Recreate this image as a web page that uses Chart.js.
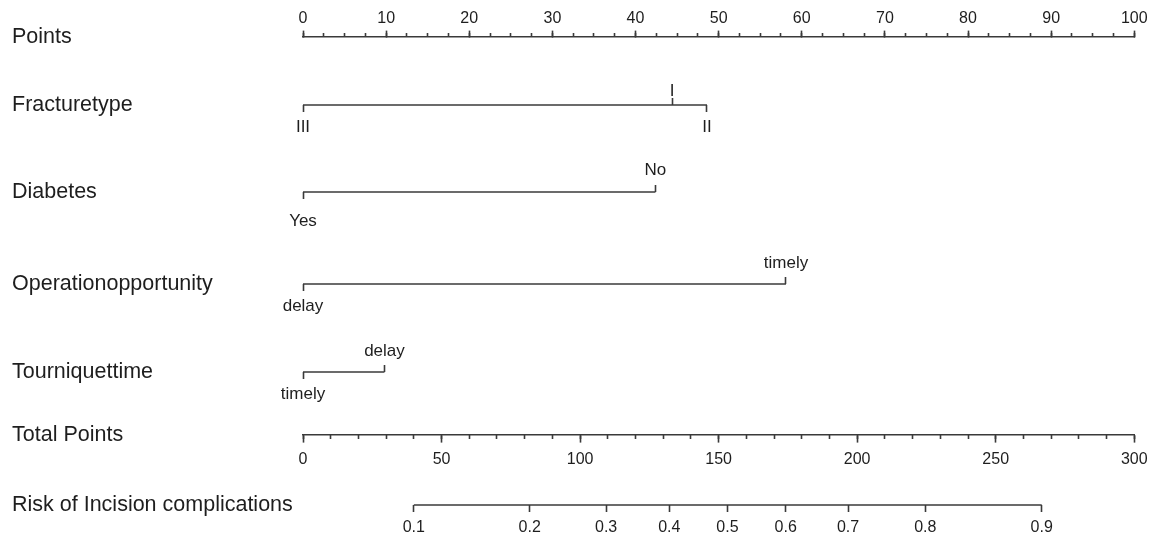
<!DOCTYPE html>
<html>
<head>
<meta charset="utf-8">
<title>Nomogram - Risk of Incision complications</title>
<script src="https://cdn.jsdelivr.net/npm/chart.js@4.4.1/dist/chart.umd.min.js"></script>
<style>
  html, body { margin: 0; padding: 0; background: #fff; }
  #wrap { width: 1156px; height: 539px; position: relative; }
</style>
</head>
<body>
<div id="wrap"><canvas id="nomogram"></canvas></div>
<script>
// Row titles (left column)
const rowNames = ['Points', 'Fracturetype', 'Diabetes', 'Operationopportunity',
                  'Tourniquettime', 'Total Points', 'Risk of Incision complications'];

// Points scale
const pointsTicks = [0, 10, 20, 30, 40, 50, 60, 70, 80, 90, 100];

// Predictors: levels and the points each one gets
const fractureLevels = ['III', 'I', 'II'];
const fracturePoints = [0, 44.4, 48.6];
const diabetesLevels = ['Yes', 'No'];
const diabetesPoints = [0, 42.4];
const operationLevels = ['delay', 'timely'];
const operationPoints = [0, 58.1];
const tourniquetLevels = ['timely', 'delay'];
const tourniquetPoints = [0, 9.8];

// Total points scale
const totalTicks = [0, 50, 100, 150, 200, 250, 300];

// Risk scale: probability labels and where they sit on total points
const riskLabels = ['0.1', '0.2', '0.3', '0.4', '0.5', '0.6', '0.7', '0.8', '0.9'];
const riskTotalPoints = [40.0, 81.8, 109.4, 132.2, 153.2, 174.2, 196.7, 224.6, 266.6];

const variables = [
    { levels: fractureLevels, points: fracturePoints },
    { levels: diabetesLevels, points: diabetesPoints },
    { levels: operationLevels, points: operationPoints },
    { levels: tourniquetLevels, points: tourniquetPoints }
];

// Layout: row offsets below the Points axis, label gaps per predictor row
const rowY = [0, 68, 155, 247, 335, 398, 468];
const upGap = [14, 22, 21, 21];
const downGap = [22, 29, 22, 22];

const INK = '#1e1e1e';
const LINE = '#3a3a3a';
const LINE_W = 1.6;
const NUM_SIZE = 16;
const LEVEL_SIZE = 17;

Chart.defaults.font.family = "'Liberation Sans', Arial, Helvetica, sans-serif";
Chart.defaults.color = INK;

function fixedTicks(values) {
    return function (scale) {
        scale.ticks = values.map(v => ({ value: v }));
    };
}

// Horizontal axis pinned to one row of the nomogram
function hAxis(row, opts) {
    const size = opts.size || NUM_SIZE;
    return {
        type: 'linear',
        axis: 'x',
        position: { y: rowY[row] },
        min: 0,
        max: opts.max,
        afterBuildTicks: opts.values ? fixedTicks(opts.values) : undefined,
        border: { display: !!opts.border, color: LINE, width: LINE_W },
        grid: {
            drawOnChartArea: false,
            drawTicks: true,
            tickLength: opts.tick,
            tickColor: LINE,
            tickWidth: LINE_W
        },
        ticks: {
            display: !!opts.labels,
            autoSkip: false,
            maxRotation: 0,
            stepSize: opts.step,
            padding: (opts.gap || 0) - opts.tick - size * 0.6,
            color: INK,
            font: { size: size },
            callback: (v, i) => opts.labels ? opts.labels[i] : ''
        }
    };
}

const scales = {
    y: {
        type: 'linear',
        reverse: true,
        min: 0,
        max: rowY[rowY.length - 1],
        afterBuildTicks: fixedTicks(rowY),
        afterFit: s => { s.width = 291; },
        grid: { display: false },
        border: { display: false },
        ticks: {
            autoSkip: false,
            crossAlign: 'far',
            padding: 0,
            color: INK,
            font: { size: 21.5 },
            callback: (v, i) => rowNames[i]
        }
    },
    xPts: hAxis(0, { max: 100, values: pointsTicks, labels: pointsTicks.map(String), tick: -7, gap: -18, border: true }),
    xPtsMinor: hAxis(0, { max: 100, step: 2.5, tick: -4 }),
    xTot: hAxis(5, { max: 300, values: totalTicks, labels: totalTicks.map(String), tick: 7, gap: 25, border: true }),
    xTotMinor: hAxis(5, { max: 300, step: 10, tick: 4 }),
    xRisk: hAxis(6, { max: 300, values: riskTotalPoints, labels: riskLabels, tick: 7, gap: 22.5 })
};

// Level ticks: alternate below / above the line in order of points
variables.forEach((v, k) => {
    const order = v.points.map((p, i) => i).sort((a, b) => v.points[a] - v.points[b]);
    const down = order.filter((_, j) => j % 2 === 0);
    const up = order.filter((_, j) => j % 2 === 1);
    scales['lvDown' + k] = hAxis(k + 1, {
        max: 100, values: down.map(i => v.points[i]), labels: down.map(i => v.levels[i]),
        tick: 7, gap: downGap[k], size: LEVEL_SIZE
    });
    scales['lvUp' + k] = hAxis(k + 1, {
        max: 100, values: up.map(i => v.points[i]), labels: up.map(i => v.levels[i]),
        tick: -7, gap: -upGap[k], size: LEVEL_SIZE
    });
});

const lineStyle = {
    showLine: true,
    pointRadius: 0,
    borderColor: LINE,
    borderWidth: LINE_W,
    fill: false,
    clip: false,
    yAxisID: 'y'
};

const datasets = variables.map((v, k) => Object.assign({
    label: rowNames[k + 1],
    xAxisID: 'xPts',
    data: [
        { x: Math.min(...v.points), y: rowY[k + 1] },
        { x: Math.max(...v.points), y: rowY[k + 1] }
    ]
}, lineStyle));

datasets.push(Object.assign({
    label: rowNames[6],
    xAxisID: 'xRisk',
    data: [
        { x: riskTotalPoints[0], y: rowY[6] },
        { x: riskTotalPoints[riskTotalPoints.length - 1], y: rowY[6] }
    ]
}, lineStyle));

new Chart(document.getElementById('nomogram'), {
    type: 'scatter',
    data: { datasets: datasets },
    options: {
        responsive: true,
        maintainAspectRatio: false,
        animation: false,
        layout: { padding: { left: 12, right: 20, top: 37, bottom: 34 } },
        plugins: {
            legend: { display: false },
            tooltip: { enabled: false }
        },
        scales: scales
    }
});
</script>
</body>
</html>
